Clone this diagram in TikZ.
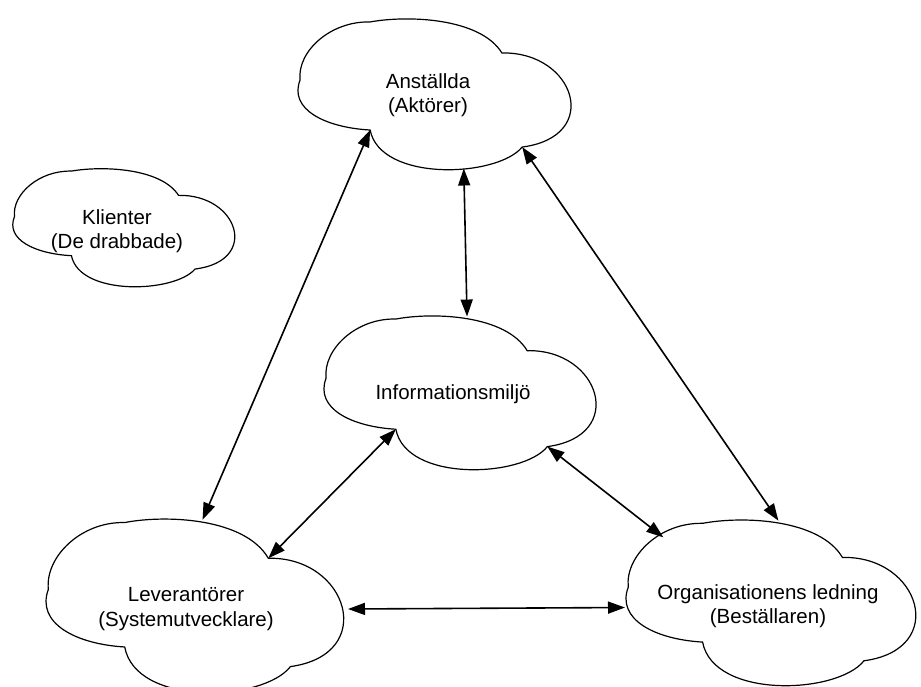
\documentclass[tikz,border=0pt]{standalone}
\usepackage{fontspec}
\setmainfont{Liberation Sans}
\usetikzlibrary{arrows.meta}

\tikzstyle{label} = [align=center, font=\fontsize{20.5}{24.5}\selectfont]
\tikzstyle{link} = [{Triangle[length=17pt,width=12pt]}-{Triangle[length=17pt,width=12pt]}, line width=1.6pt]
\tikzset{
  cloudy/.pic={
    \draw[line width=1.2pt] (0.263,0.026) .. controls (0.40,-0.02) and (0.66,0.0) .. (0.737,0.23)
      .. controls (1.0,0.22) and (1.1,0.78) .. (0.81,0.849)
      .. controls (0.72,1.05) and (0.3,1.08) .. (0.263,0.737)
      .. controls (0.1,0.72) and (-0.03,0.6) .. (0.011,0.408)
      .. controls (0.0,0.22) and (0.12,0.02) .. cycle;
    \coordinate (-top) at (0.52,0.01);
    \coordinate (-bot) at (0.6,0.99);
    \coordinate (-left) at (0.0,0.53);
    \coordinate (-right) at (1.0,0.52);
    \coordinate (-tl) at (0.13,0.11);
    \coordinate (-rt) at (0.737,0.23);
    \coordinate (-bl) at (0.263,0.737);
    \coordinate (-br) at (0.81,0.849);
  }
}

\begin{document}
\begin{tikzpicture}[x=1pt, y=-1pt]
        \clip (0,0) rectangle (921,686);
        % clouds
        \pic[shift={(297,18)}, xscale=278, yscale=152] (ans) {cloudy};
        \pic[shift={(12,168)}, xscale=226, yscale=119] (kli) {cloudy};
        \pic[shift={(323,315)}, xscale=277, yscale=155] (inf) {cloudy};
        \pic[shift={(45,518)}, xscale=303, yscale=175] (lev) {cloudy};
        \pic[shift={(625,519)}, xscale=295, yscale=167] (org) {cloudy};
        % texts
        \node[label] (ansText) at (428,95) {Anställda\\(Aktörer)};
        \node[label] (kliText) at (117,231) {Klienter\\(De drabbade)};
        \node[label] (infText) at (453,394) {Informationsmiljö};
        \node[label] (levText) at (186,609) {Leverantörer\\(Systemutvecklare)};
        \node[label] (orgText) at (768,606) {Organisationens ledning\\(Beställaren)};
        % connectors
        \draw[link] (ans-bl) -- (lev-top);
        \draw[link] (ans-bot) -- (inf-top);
        \draw[link] (ans-br) -- (org-top);
        \draw[link] (inf-bl) -- (lev-rt);
        \draw[link] (inf-br) -- (org-tl);
        \draw[link] (lev-right) -- (org-left);
\end{tikzpicture}
\end{document}
